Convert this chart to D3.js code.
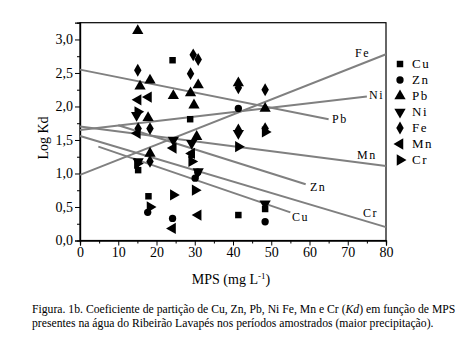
<!DOCTYPE html>
<html><head><meta charset="utf-8">
<script src="https://cdn.jsdelivr.net/npm/d3@7"></script>
<style>
body{margin:0;background:#fff;}
svg{display:block;}
svg text{font-family:'Liberation Serif','DejaVu Serif','Times New Roman',serif !important;fill:#000;}
</style></head>
<body>
<svg id="c" width="472" height="353"></svg>
<script>
// ---- data ----
const cuX = [15.2, 17.9, 24.2, 28.8, 29.2, 41.4, 48.4];
const cuY = [1.05, 0.66, 2.69, 1.81, 1.28, 0.38, 0.47];
const znX = [17.7, 24.2, 30.1, 30.8, 41.4, 48.4];
const znY = [0.42, 0.33, 0.93, 1.02, 1.97, 0.28];
const pbX = [15.1, 15.7, 18.3, 17.8, 18.3, 24.4, 28.9, 29.8, 30.9, 30.5, 41.4, 48.4];
const pbY = [3.13, 2.30, 2.39, 1.83, 1.30, 2.16, 2.20, 2.02, 2.32, 1.55, 2.35, 1.97];
const niX = [14.8, 15.2, 24.4, 29.2, 30.9, 48.4, 41.4];
const niY = [1.87, 1.18, 1.50, 1.45, 1.03, 0.55, 1.60];
const feX = [15.1, 15.2, 18.3, 18.3, 28.9, 29.6, 30.9, 41.4, 41.4, 48.4, 48.4];
const feY = [2.54, 1.67, 1.67, 1.18, 2.49, 2.77, 2.70, 2.28, 1.65, 2.25, 1.67];
const mnX = [15.2, 17.9, 24.2, 30.9, 24.4, 29.2, 15.0];
const mnY = [2.10, 2.14, 0.18, 0.38, 1.38, 1.30, 1.60];
const crX = [15.1, 18.3, 24.4, 30.1, 41.4, 48.4, 29.2, 15.0];
const crY = [1.92, 0.50, 0.68, 0.75, 1.40, 1.62, 1.18, 1.15];

// fitted lines: start and end points [x, y]
const lineNames = ["Fe", "Ni", "Pb", "Mn", "Zn", "Cu", "Cr"];
const lineStart = [[0, 0.98], [0, 1.65], [0, 2.55], [0, 1.70], [10, 1.72], [4.8, 1.40], [0, 1.56]];
const lineEnd   = [[80, 2.78], [75, 2.15], [65, 1.81], [80, 1.11], [59, 0.84], [55, 0.42], [80, 0.20]];

const xTicks = [0, 10, 20, 30, 40, 50, 60, 70, 80];
const yTicks = [0, 0.5, 1, 1.5, 2, 2.5, 3];
const legendNames = ["Cu", "Zn", "Pb", "Ni", "Fe", "Mn", "Cr"];

// ---- drawing ----
const svg = d3.select("#c");
const L = 80, R = 386, T = 22.7, B = 240.5;
const x = d3.scaleLinear().domain([0, 80]).range([L, R]);
const y = d3.scaleLinear().domain([0, 3.25]).range([B, T]);
const fmt = d => d3.format(".1f")(d).replace(".", ",");

svg.append("rect").attr("x", L).attr("y", T).attr("width", R - L).attr("height", B - T)
  .attr("fill", "none").attr("stroke", "#000").attr("stroke-width", 1.2);

svg.append("g").attr("transform", `translate(0,${B})`)
  .call(d3.axisBottom(x).tickValues(xTicks).tickSize(5).tickPadding(2).tickFormat(d3.format("d")));
svg.append("g").attr("transform", `translate(0,${B})`)
  .call(d3.axisBottom(x).tickValues(d3.range(5, 80, 10)).tickSize(3).tickFormat(""));
svg.append("g").attr("transform", `translate(${L},0)`)
  .call(d3.axisLeft(y).tickValues(yTicks).tickSize(5).tickPadding(2).tickFormat(fmt));
svg.append("g").attr("transform", `translate(${L},0)`)
  .call(d3.axisLeft(y).tickValues(d3.range(0.25, 3.25, 0.5)).tickSize(3).tickFormat(""));
svg.selectAll(".domain").attr("stroke", "#000").attr("stroke-width", 1.2);
svg.selectAll(".tick line").attr("stroke", "#000");
svg.selectAll(".tick text").attr("font-size", null).style("font-size", "14px");

lineNames.forEach((n, i) => {
  svg.append("line")
    .attr("x1", x(lineStart[i][0])).attr("y1", y(lineStart[i][1]))
    .attr("x2", x(lineEnd[i][0])).attr("y2", y(lineEnd[i][1]))
    .attr("stroke", "#808080").attr("stroke-width", 2);
});
const lblPos = {Fe:[355,57], Ni:[369,99], Pb:[332,123], Mn:[357,159], Zn:[310,191], Cr:[363,217], Cu:[292,221]};
lineNames.forEach(n => {
  svg.append("text").attr("x", lblPos[n][0]).attr("y", lblPos[n][1])
    .style("font-size", "12px").style("letter-spacing", "1.5px").text(n);
});

const sym = {
  Cu: d3.symbol().type(d3.symbolSquare).size(42),
  Zn: d3.symbol().type(d3.symbolCircle).size(42),
  Pb: d3.symbol().type(d3.symbolTriangle).size(55),
  Ni: d3.symbol().type(d3.symbolTriangle).size(55),
  Fe: d3.symbol().type(d3.symbolDiamond).size(48),
  Mn: d3.symbol().type(d3.symbolTriangle).size(55),
  Cr: d3.symbol().type(d3.symbolTriangle).size(55)
};
const rot = {Cu:0, Zn:0, Pb:0, Ni:180, Fe:0, Mn:-90, Cr:90};
const series = {Cu:[cuX,cuY], Zn:[znX,znY], Pb:[pbX,pbY], Ni:[niX,niY], Fe:[feX,feY], Mn:[mnX,mnY], Cr:[crX,crY]};
legendNames.forEach(n => {
  const [xs, ys] = series[n];
  svg.append("g").selectAll("path").data(xs.map((v, i) => [v, ys[i]])).join("path")
    .attr("d", sym[n]())
    .attr("transform", d => `translate(${x(d[0])},${y(d[1])}) rotate(${rot[n]})`)
    .attr("fill", "#000");
});

legendNames.forEach((n, i) => {
  const ly = 64 + i * 16;
  svg.append("path").attr("d", sym[n]()).attr("fill", "#000")
    .attr("transform", `translate(400,${ly}) rotate(${rot[n]})`);
  svg.append("text").attr("x", 412).attr("y", ly + 4).style("font-size", "13px")
    .style("letter-spacing", "1.5px").text(n);
});

svg.append("text").attr("transform", "translate(48,138) rotate(-90)").attr("text-anchor", "middle")
  .style("font-size", "14px").text("Log Kd");
const xt = svg.append("text").attr("x", 231).attr("y", 284).attr("text-anchor", "middle").style("font-size", "14px");
xt.append("tspan").text("MPS (mg L");
xt.append("tspan").attr("dy", -5).style("font-size", "9px").text("-1");
xt.append("tspan").attr("dy", 5).text(")");

const cap = svg.append("text").attr("x", 32).attr("y", 313).style("font-size", "11.7px");
cap.append("tspan").text("Figura. 1b. Coeficiente de partição de Cu, Zn, Pb, Ni Fe, Mn e Cr (");
cap.append("tspan").style("font-style", "italic").text("Kd");
cap.append("tspan").text(") em função de MPS");
svg.append("text").attr("x", 32).attr("y", 327).style("font-size", "11.7px")
  .text("presentes na água do Ribeirão Lavapés nos períodos amostrados (maior precipitação).");
</script>
</body></html>
